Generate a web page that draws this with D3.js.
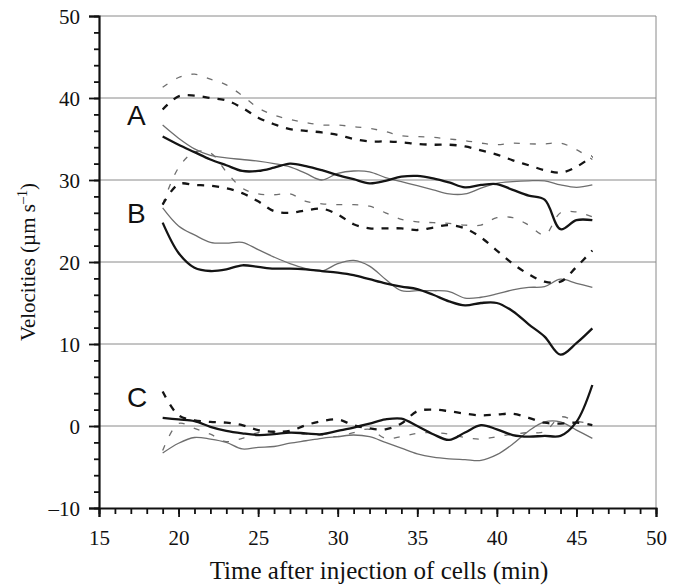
<!DOCTYPE html>
<html>
<head>
<meta charset="utf-8">
<script src="https://cdn.jsdelivr.net/npm/d3@7"></script>
<style>
  body { margin: 0; background: #fff; }
  svg text { font-family: "Liberation Serif", "DejaVu Serif", "Times New Roman", serif; fill: #111; }
  svg text.panel { font-family: "Liberation Sans", Arial, sans-serif; }
</style>
</head>
<body>
<div id="chart"></div>
<script>
// minutes after injection
const times = [19,20,21,22,23,24,25,26,27,28,29,30,31,32,33,34,35,36,37,38,39,40,41,42,43,44,45,46];

// group A
const aThickSolid = [35.3,34.3,33.4,32.5,31.8,31.1,31.1,31.5,32.0,31.7,31.2,30.6,30.1,29.6,29.9,30.4,30.5,30.2,29.7,29.1,29.4,29.5,28.8,28.1,27.6,24.0,25.1,25.1];
const aThinSolid  = [36.7,35.1,33.8,33.0,32.7,32.5,32.3,32.0,31.6,30.8,30.0,30.8,31.1,31.0,30.3,29.8,29.3,28.8,28.3,28.3,29.0,29.6,29.8,29.9,29.9,29.4,29.1,29.4];
const aThickDash  = [38.6,40.2,40.3,40.0,39.7,38.8,37.6,36.8,36.2,36.0,35.8,35.5,35.0,34.7,34.7,34.6,34.4,34.3,34.3,34.1,33.6,33.1,32.4,31.8,31.2,30.9,31.6,32.9];
const aThinDash   = [41.3,42.5,42.9,42.3,41.6,40.3,38.8,37.9,37.4,37.0,36.7,36.7,36.5,36.3,35.9,35.4,35.3,35.2,35.0,34.8,34.5,34.3,34.5,34.4,34.4,34.5,33.7,32.5];

// group B
const bThickSolid = [24.8,21.1,19.3,18.9,19.1,19.6,19.4,19.2,19.2,19.1,18.9,18.7,18.4,17.9,17.4,17.0,16.7,16.0,15.2,14.7,15.0,15.0,14.0,12.4,10.9,8.7,10.1,11.9];
const bThinSolid  = [26.6,24.4,23.3,22.4,22.3,22.4,21.5,20.6,19.8,19.2,18.9,19.8,20.2,19.5,17.9,16.5,16.5,16.5,16.4,15.6,15.7,16.1,16.6,16.9,17.0,17.9,17.4,16.9];
const bThickDash  = [27.0,29.5,29.4,29.3,29.0,28.4,27.4,26.2,26.0,26.3,26.5,25.8,24.6,24.1,24.1,24.1,23.9,24.2,24.5,24.1,23.0,21.4,19.8,18.5,17.6,17.6,19.4,21.4];
const bThinDash   = [27.0,31.5,33.4,33.3,31.0,29.0,28.3,28.2,28.3,27.4,27.1,27.0,27.0,26.8,26.0,25.2,24.9,24.8,24.7,24.5,24.5,25.4,25.4,24.5,23.3,26.0,26.1,25.5];

// group C
const cThickSolid = [1.0,0.8,0.6,-0.1,-0.6,-0.9,-1.1,-1.0,-0.8,-0.9,-1.0,-0.6,-0.2,0.3,0.8,0.9,0.0,-1.0,-1.7,-0.8,0.1,-0.4,-1.1,-1.3,-1.2,-1.2,0.5,5.0];
const cThinSolid  = [-3.3,-2.1,-1.4,-1.6,-2.0,-2.8,-2.6,-2.5,-2.1,-1.8,-1.5,-1.3,-1.1,-1.3,-2.0,-2.7,-3.4,-3.8,-4.0,-4.1,-4.2,-3.5,-2.2,-0.6,0.5,0.5,-0.5,-1.5];
const cThickDash  = [4.2,1.3,0.7,0.5,0.4,0.1,-0.5,-0.7,-0.6,0.1,0.6,0.8,0.1,-0.3,-0.4,0.3,1.8,2.0,1.8,1.5,1.3,1.4,1.5,1.0,0.4,0.3,0.4,0.1];
const cThinDash   = [-3.0,0.3,-0.3,-1.0,-1.9,-1.5,-0.8,-0.7,-0.8,-1.0,-1.1,-1.3,-0.8,-0.4,-1.5,-1.3,-0.9,-0.8,-1.0,-1.4,-1.6,-1.3,-1.0,-0.8,-0.7,1.1,0.6,0.3];

const panelLabels = ["A", "B", "C"];
const panelLabelValues = [36.7, 24.8, 2.3];
const xTickLabels = [15, 20, 25, 30, 35, 40, 45, 50];
const yTickLabels = [-10, 0, 10, 20, 30, 40, 50];

const series = [
  { kind: "thinSolid",  values: aThinSolid },
  { kind: "thinDash",   values: aThinDash },
  { kind: "thinSolid",  values: bThinSolid },
  { kind: "thinDash",   values: bThinDash },
  { kind: "thinSolid",  values: cThinSolid },
  { kind: "thinDash",   values: cThinDash },
  { kind: "thickSolid", values: aThickSolid },
  { kind: "thickDash",  values: aThickDash },
  { kind: "thickSolid", values: bThickSolid },
  { kind: "thickDash",  values: bThickDash },
  { kind: "thickSolid", values: cThickSolid },
  { kind: "thickDash",  values: cThickDash }
];

const styles = {
  thickSolid: { stroke: "#141414", width: 2.3, dash: null },
  thickDash:  { stroke: "#141414", width: 2.3, dash: "7,8" },
  thinSolid:  { stroke: "#6e6e6e", width: 1.3, dash: null },
  thinDash:   { stroke: "#6e6e6e", width: 1.3, dash: "6,10" }
};

const serif = '"Liberation Serif", "DejaVu Serif", "Times New Roman", serif';
const width = 680, height = 588;
const x = d3.scaleLinear().domain([15, 50]).range([99, 656]);
const y = d3.scaleLinear().domain([-10, 50]).range([508, 16]);

const svg = d3.select("#chart").append("svg")
  .attr("width", width)
  .attr("height", height);

// grid lines
svg.append("g").selectAll("line")
  .data(yTickLabels.filter(d => d > -10))
  .enter().append("line")
  .attr("x1", x(15)).attr("x2", x(50))
  .attr("y1", d => y(d)).attr("y2", d => y(d))
  .attr("stroke", "#8a8a8a").attr("stroke-width", 1);

svg.append("line")
  .attr("x1", x(50)).attr("x2", x(50))
  .attr("y1", y(50)).attr("y2", y(-10))
  .attr("stroke", "#8a8a8a").attr("stroke-width", 1);

// lines
const line = d3.line()
  .x((d, i) => x(times[i]))
  .y(d => y(d))
  .curve(d3.curveCatmullRom.alpha(0.5));

svg.append("g").selectAll("path")
  .data(series)
  .enter().append("path")
  .attr("d", d => line(d.values))
  .attr("fill", "none")
  .attr("stroke", d => styles[d.kind].stroke)
  .attr("stroke-width", d => styles[d.kind].width)
  .attr("stroke-dasharray", d => styles[d.kind].dash);

// x axis: minor then major
const xMinor = d3.axisBottom(x).tickValues(d3.range(15, 51, 1)).tickSize(6).tickFormat("");
const xMajor = d3.axisBottom(x).tickValues(xTickLabels).tickSize(9).tickPadding(13)
  .tickFormat(d => d);

svg.append("g").attr("transform", `translate(0,${y(-10)})`).call(xMinor)
  .call(g => g.select(".domain").remove())
  .selectAll("line").attr("stroke", "#111").attr("stroke-width", 1.8);
const gx = svg.append("g").attr("transform", `translate(0,${y(-10)})`).call(xMajor);
gx.select(".domain").attr("stroke", "#111").attr("stroke-width", 2);
gx.selectAll("line").attr("stroke", "#111").attr("stroke-width", 1.8);
gx.selectAll("text").attr("font-size", 21).style("font-family", serif).attr("fill", "#111");

// y axis
const yMinor = d3.axisLeft(y).tickValues(d3.range(-10, 51, 2)).tickSize(5).tickFormat("");
const yMajor = d3.axisLeft(y).tickValues(yTickLabels).tickSize(10).tickPadding(9)
  .tickFormat(d => d < 0 ? "\u2013" + Math.abs(d) : d);

svg.append("g").attr("transform", `translate(${x(15)},0)`).call(yMinor)
  .call(g => g.select(".domain").remove())
  .selectAll("line").attr("stroke", "#111").attr("stroke-width", 1.8);
const gy = svg.append("g").attr("transform", `translate(${x(15)},0)`).call(yMajor);
gy.select(".domain").attr("stroke", "#111").attr("stroke-width", 2.2);
gy.selectAll("line").attr("stroke", "#111").attr("stroke-width", 1.8);
gy.selectAll("text").attr("font-size", 21).style("font-family", serif).attr("fill", "#111")
  .attr("dy", "0.36em");

// panel letters
svg.append("g").selectAll("text")
  .data(panelLabels)
  .enter().append("text")
  .attr("class", "panel")
  .attr("x", 127)
  .attr("y", (d, i) => y(panelLabelValues[i]))
  .attr("font-size", 28)
  .text(d => d);

// axis titles
svg.append("text")
  .attr("x", 379)
  .attr("y", 579)
  .attr("text-anchor", "middle")
  .attr("font-size", 25)
  .style("font-family", serif)
  .text("Time after injection of cells (min)");

const yt = svg.append("text")
  .attr("transform", `translate(35,${y(20)}) rotate(-90)`)
  .attr("text-anchor", "middle")
  .attr("font-size", 21)
  .style("font-family", serif);
yt.append("tspan").text("Velocities (\u00b5m s");
yt.append("tspan").attr("font-size", 14).attr("dy", -8).text("\u20131");
yt.append("tspan").attr("dy", 8).text(")");
</script>
</body>
</html>
